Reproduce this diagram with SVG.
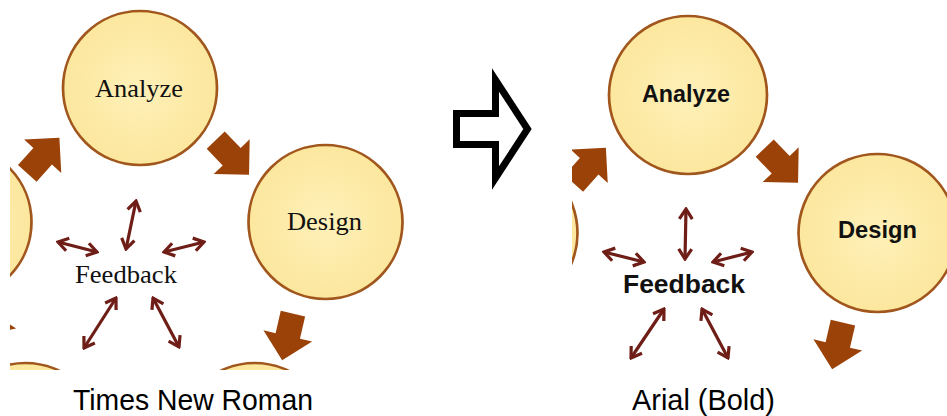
<svg xmlns="http://www.w3.org/2000/svg" width="947" height="416" viewBox="0 0 947 416">
<style>
.node circle{fill:url(#cf);stroke:#A0561C;stroke-width:2.7}
.blk{fill:#9B4209}
.fb{stroke:#6E1E16;stroke-width:3.2;fill:none;marker-start:url(#fh);marker-end:url(#fh)}
.tnr{font-family:"Liberation Serif","Times New Roman",serif;font-size:26px;fill:#111;text-anchor:middle}
.arb{font-family:"Liberation Sans",Arial,sans-serif;font-weight:bold;fill:#111;text-anchor:middle}
.cap{font-family:"Liberation Sans",Arial,sans-serif;font-size:30px;fill:#000}
</style>
<defs>
<radialGradient id="cf" cx="0.5" cy="0.5" r="0.5">
<stop offset="0" stop-color="#FEF0B8"/>
<stop offset="1" stop-color="#FCE79E"/>
</radialGradient>
<marker id="fh" viewBox="-12 -8 14 16" refX="0" refY="0" markerWidth="14" markerHeight="16" markerUnits="userSpaceOnUse" orient="auto-start-reverse">
<path d="M-10,-6.5 L0,0 L-10,6.5" fill="none" stroke="#6E1E16" stroke-width="3.2"/>
</marker>
<path id="ba" d="M-22,-12.5 H1 V-25 L26,0 L1,25 V12.5 H-22 Z"/>
<clipPath id="clipL"><rect x="10" y="0" width="410" height="370"/></clipPath>
<clipPath id="clipR"><rect x="572" y="0" width="375" height="370"/></clipPath>
</defs>
<rect width="947" height="416" fill="#fff"/>

<g id="left-panel" clip-path="url(#clipL)">
<g id="L-analyze" class="node"><circle cx="140" cy="88" r="77"/><text class="tnr" x="139" y="97" textLength="88" lengthAdjust="spacingAndGlyphs">Analyze</text></g>
<g id="L-design" class="node"><circle cx="325.5" cy="222" r="77"/><text class="tnr" x="324.5" y="230" textLength="75" lengthAdjust="spacingAndGlyphs">Design</text></g>
<g id="L-left" class="node"><circle cx="-45.5" cy="222" r="77"/></g>
<g id="L-bottom-left" class="node"><circle cx="25.4" cy="440" r="77"/></g>
<g id="L-bottom-right" class="node"><circle cx="254.6" cy="440" r="77"/></g>
<g id="L-feedback"><text class="tnr" x="126" y="283" textLength="102" lengthAdjust="spacingAndGlyphs">Feedback</text></g>
<g id="L-connectors">
<use href="#ba" class="blk" transform="translate(42,157) rotate(-48)"/>
<use href="#ba" class="blk" transform="translate(231,156) rotate(46)"/>
<use href="#ba" class="blk" transform="translate(288,335) rotate(103)"/>
<use href="#ba" class="blk" transform="translate(-8,335) rotate(-103)"/>
<line class="fb" x1="136" y1="201" x2="126" y2="249"/>
<line class="fb" x1="58" y1="242" x2="97" y2="252"/>
<line class="fb" x1="164" y1="252" x2="204" y2="242"/>
<line class="fb" x1="116" y1="298" x2="84" y2="348"/>
<line class="fb" x1="153" y1="298" x2="179" y2="347"/>
</g>
</g>

<g id="middle-arrow">
<path d="M456.5,113.5 H495.5 V80 L527.5,129 L495.5,178 V144.5 H456.5 Z" fill="#fff" stroke="#000" stroke-width="7" stroke-miterlimit="10"/>
</g>

<g id="right-panel" clip-path="url(#clipR)">
<g id="R-analyze" class="node"><circle cx="688" cy="95" r="79"/><text class="arb" x="686" y="102" font-size="23.4" textLength="88" lengthAdjust="spacingAndGlyphs">Analyze</text></g>
<g id="R-design" class="node"><circle cx="877.5" cy="233" r="79"/><text class="arb" x="877.5" y="238" font-size="23.4" textLength="79" lengthAdjust="spacingAndGlyphs">Design</text></g>
<g id="R-left" class="node"><circle cx="498.5" cy="233" r="79"/></g>
<g id="R-feedback"><text class="arb" x="684" y="293" font-size="26.4" textLength="122" lengthAdjust="spacingAndGlyphs">Feedback</text></g>
<g id="R-connectors">
<use href="#ba" class="blk" transform="translate(588.5,167) rotate(-48)"/>
<use href="#ba" class="blk" transform="translate(780,164) rotate(46)"/>
<use href="#ba" class="blk" transform="translate(838,344) rotate(103)"/>
<line class="fb" x1="686" y1="209" x2="685" y2="259"/>
<line class="fb" x1="604" y1="252" x2="644" y2="262"/>
<line class="fb" x1="713" y1="262" x2="752" y2="252"/>
<line class="fb" x1="664" y1="309" x2="631" y2="358"/>
<line class="fb" x1="702" y1="309" x2="728" y2="358"/>
</g>
</g>

<g id="captions">
<text class="cap" x="73" y="410" textLength="240" lengthAdjust="spacingAndGlyphs">Times New Roman</text>
<text class="cap" x="632" y="410" textLength="143" lengthAdjust="spacingAndGlyphs">Arial (Bold)</text>
</g>
</svg>
